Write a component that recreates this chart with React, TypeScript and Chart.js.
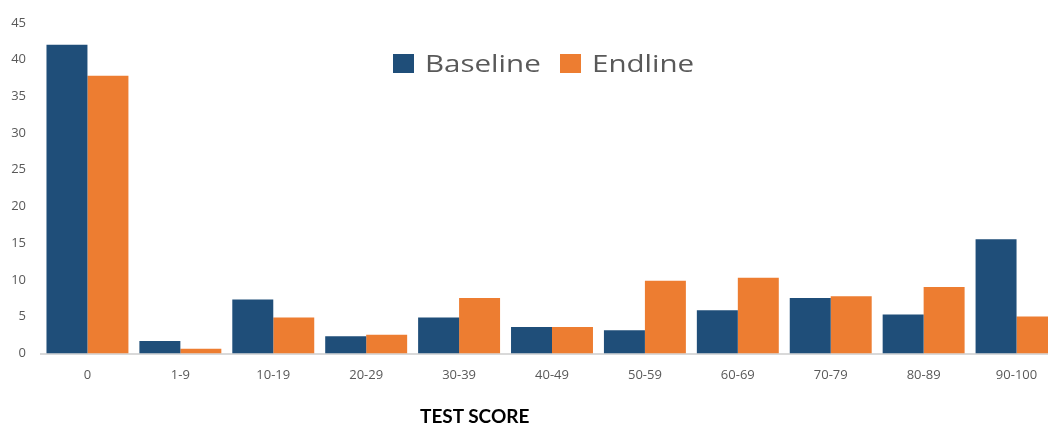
import React, { useEffect, useRef } from "react";
import { Chart, registerables } from "chart.js";

Chart.register(...registerables);

const categories = ["0", "1-9", "10-19", "20-29", "30-39", "40-49", "50-59", "60-69", "70-79", "80-89", "90-100"];
const baseline = [42.0, 1.7, 7.35, 2.35, 4.9, 3.6, 3.15, 5.9, 7.55, 5.3, 15.55];
const endline = [37.8, 0.65, 4.9, 2.55, 7.55, 3.6, 9.9, 10.3, 7.8, 9.05, 5.05];
const seriesNames = ["Baseline", "Endline"];
const seriesColors = ["#1F4E79", "#ED7D31"];
const xTitle = "TEST SCORE";

export default function App() {
  const ref = useRef<HTMLCanvasElement | null>(null);

  useEffect(() => {
    document.body.style.margin = "0";
    const canvas = ref.current;
    if (!canvas) return;
    const chart = new Chart(canvas, {
      type: "bar",
      data: {
        labels: categories,
        datasets: [
          { label: seriesNames[0], data: baseline, backgroundColor: seriesColors[0], borderWidth: 0 },
          { label: seriesNames[1], data: endline, backgroundColor: seriesColors[1], borderWidth: 0 },
        ],
      },
      options: {
        animation: false,
        responsive: false,
        maintainAspectRatio: false,
        layout: { padding: { top: 19.5, right: 0, left: 0, bottom: 0 } },
        datasets: { bar: { categoryPercentage: 0.882, barPercentage: 1 } },
        plugins: { legend: { display: false }, tooltip: { enabled: false }, title: { display: false } },
        scales: {
          x: {
            grid: { display: false, drawTicks: false },
            border: { display: true, color: "#D9D9D9", width: 2 },
            ticks: { color: "#595959", font: { family: "'Open Sans'", size: 13 }, padding: 14, maxRotation: 0 },
            afterFit: (s: any) => { s.height = 75.5; },
          },
          y: {
            min: 0,
            max: 45,
            grid: { display: false, drawTicks: false },
            border: { display: false },
            ticks: { stepSize: 5, color: "#595959", font: { family: "'Open Sans'", size: 13 }, padding: 15 },
            afterFit: (s: any) => { s.width = 41; },
          },
        },
      },
    });
    return () => chart.destroy();
  }, []);

  const legendText: React.CSSProperties = {
    position: "absolute",
    fontFamily: "'Open Sans'",
    fontSize: 24,
    lineHeight: "24px",
    color: "#595959",
    transform: "scaleX(1.23)",
    transformOrigin: "left center",
    whiteSpace: "nowrap",
  };

  return (
    <div style={{ position: "relative", width: 1048, height: 429, overflow: "hidden", background: "#fff" }}>
      <canvas ref={ref} width={1063} height={429} style={{ width: 1063, height: 429, display: "block" }} />
      <div style={{ position: "absolute", left: 393, top: 54, width: 21, height: 19, background: seriesColors[0] }} />
      <div style={{ ...legendText, left: 425, top: 51 }}>{seriesNames[0]}</div>
      <div style={{ position: "absolute", left: 560, top: 54, width: 21, height: 19, background: seriesColors[1] }} />
      <div style={{ ...legendText, left: 592, top: 51 }}>{seriesNames[1]}</div>
      <div
        style={{
          position: "absolute",
          left: 420,
          top: 406,
          fontFamily: "Lato",
          fontWeight: 700,
          fontSize: 19,
          lineHeight: "19px",
          color: "#000",
          whiteSpace: "nowrap",
        }}
      >
        {xTitle}
      </div>
    </div>
  );
}
